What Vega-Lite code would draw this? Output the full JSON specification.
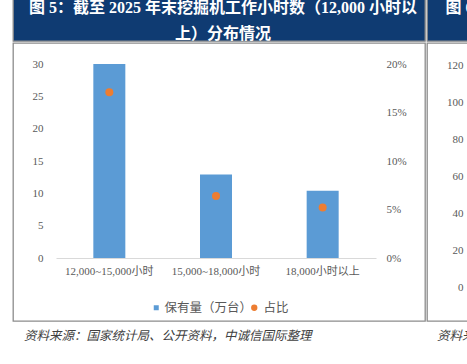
{
  "$schema": "https://vega.github.io/schema/vega-lite/v6.json",
  "background": "white",
  "padding": {"left": 12, "top": -3, "right": 0, "bottom": 0},
  "spacing": 0,
  "config": {
    "view": {"stroke": "#8c8c8c", "strokeWidth": 1.3},
    "font": "Liberation Serif, Noto Sans CJK SC",
    "axis": {"labelFont": "Liberation Serif, Noto Sans CJK SC", "labelColor": "#595959", "labelFontSize": 11}
  },
  "vconcat": [
    {
      "spacing": 0,
      "hconcat": [
        {
          "width": 412, "height": 43,
          "view": {"fill": "#0f3b72", "stroke": "#8c8c8c", "strokeWidth": 1.3},
          "layer": [
            {
              "data": {"values": [{"t": "图 5：截至 2025 年末挖掘机工作小时数（12,000 小时以"}]},
              "mark": {"type": "text", "clip": true, "fontSize": 16, "fontWeight": "bold", "color": "#ffffff", "font": "Liberation Serif, Noto Sans CJK SC", "align": "center", "baseline": "middle", "dy": -12, "dx": 4},
              "encoding": {"text": {"field": "t"}}
            },
            {
              "data": {"values": [{"t": "上）分布情况"}]},
              "mark": {"type": "text", "clip": true, "fontSize": 16, "fontWeight": "bold", "color": "#ffffff", "font": "Liberation Serif, Noto Sans CJK SC", "align": "center", "baseline": "middle", "dy": 14, "dx": 4},
              "encoding": {"text": {"field": "t"}}
            }
          ]
        },
        {
          "width": 43, "height": 43,
          "view": {"fill": "#0f3b72", "stroke": "#8c8c8c", "strokeWidth": 1.3},
          "data": {"values": [{"t": "图 6：截至"}]},
          "mark": {"type": "text", "clip": true, "fontSize": 16, "fontWeight": "bold", "color": "#ffffff", "font": "Liberation Serif, Noto Sans CJK SC", "align": "left", "baseline": "middle", "dy": -12, "dx": -3},
          "encoding": {"text": {"field": "t"}}
        }
      ]
    },
    {
      "spacing": 0,
      "hconcat": [
        {
          "width": 412, "height": 278,
          "data": {"values": [
            {"cat": "12,000~15,000小时", "qty": 30, "pct": 0.171},
            {"cat": "15,000~18,000小时", "qty": 12.9, "pct": 0.064},
            {"cat": "18,000小时以上", "qty": 10.4, "pct": 0.052}
          ]},
          "encoding": {
            "x": {
              "field": "cat", "type": "nominal", "sort": null,
              "scale": {"range": [43, 363], "paddingInner": 0.7, "paddingOuter": 0.35},
              "axis": {"title": null, "offset": -63, "labelAngle": 0, "domainColor": "#d9d9d9", "domainWidth": 1, "ticks": false, "labelPadding": 7}
            }
          },
          "layer": [
            {
              "mark": {"type": "bar"},
              "encoding": {
                "y": {
                  "field": "qty", "type": "quantitative",
                  "scale": {"domain": [0, 30], "range": [215, 21], "nice": false},
                  "axis": {"orient": "left", "offset": -43, "values": [0, 5, 10, 15, 20, 25, 30], "grid": false, "domain": false, "ticks": false, "labelPadding": 13, "title": null}
                },
                "y2": {"datum": 0},
                "fill": {
                  "datum": "保有量（万台）",
                  "scale": {"range": ["#5b9bd5"]},
                  "legend": {"orient": "none", "legendX": 137, "legendY": 303.5, "title": null, "symbolType": "square", "symbolSize": 25, "labelFontSize": 12.5, "labelColor": "#595959", "labelFont": "Noto Sans CJK SC", "labelOffset": 2, "padding": 0}
                }
              }
            },
            {
              "mark": {"type": "point", "filled": true, "size": 64, "opacity": 1},
              "encoding": {
                "y": {
                  "field": "pct", "type": "quantitative",
                  "scale": {"domain": [0, 0.2], "range": [215, 21], "nice": false},
                  "axis": {"orient": "right", "offset": -49, "values": [0, 0.05, 0.1, 0.15, 0.2], "format": ".0%", "grid": false, "domain": false, "ticks": false, "labelPadding": 10, "title": null}
                },
                "color": {
                  "datum": "占比",
                  "scale": {"range": ["#ed7d31"]},
                  "legend": {"orient": "none", "legendX": 235, "legendY": 303.5, "title": null, "symbolType": "circle", "symbolSize": 40, "labelFontSize": 12.5, "labelColor": "#595959", "labelFont": "Noto Sans CJK SC", "labelOffset": 3, "padding": 0}
                }
              }
            }
          ],
          "resolve": {"scale": {"y": "independent"}}
        },
        {
          "width": 43, "height": 278,
          "data": {"values": []},
          "mark": "point",
          "encoding": {
            "y": {
              "field": "v", "type": "quantitative",
              "scale": {"domain": [0, 120], "range": [244, 22], "nice": false},
              "axis": {"orient": "left", "offset": -36, "values": [0, 20, 40, 60, 80, 100, 120], "grid": false, "domain": false, "ticks": false, "labelPadding": 0, "title": null}
            }
          }
        }
      ]
    },
    {
      "spacing": 0,
      "hconcat": [
        {
          "width": 412, "height": 24,
          "data": {"values": []},
          "mark": "text",
          "title": {"text": "资料来源：国家统计局、公开资料，中诚信国际整理", "anchor": "start", "frame": "group", "orient": "top", "offset": -20, "dx": 11, "fontSize": 12.5, "fontStyle": "italic", "fontWeight": "normal", "color": "#404040", "font": "Noto Sans CJK SC"}
        },
        {
          "width": 43, "height": 24,
          "data": {"values": []},
          "mark": "text",
          "title": {"text": "资料来源：国家统计局", "anchor": "start", "frame": "group", "orient": "top", "offset": -20, "dx": 12, "fontSize": 12.5, "fontStyle": "italic", "fontWeight": "normal", "color": "#404040", "font": "Noto Sans CJK SC"}
        }
      ]
    }
  ]
}
